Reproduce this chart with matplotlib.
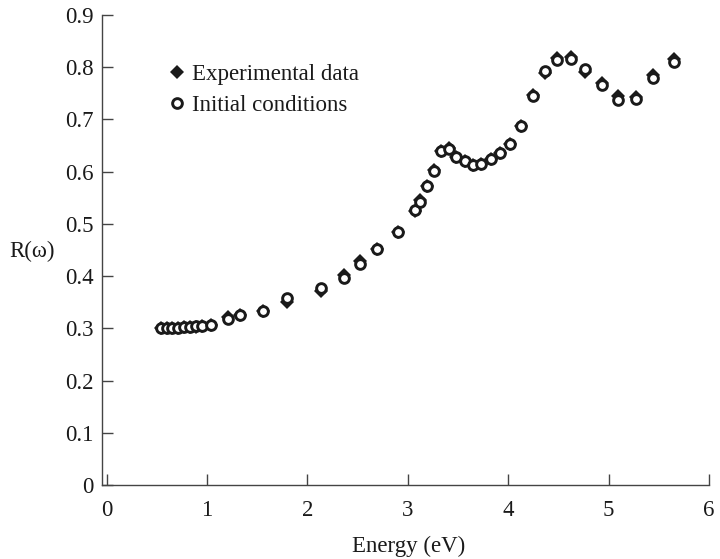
#!/usr/bin/env python3
"""
Reflectivity R(omega) vs photon energy: experimental data and initial conditions.
Saves out.png
"""
import matplotlib
matplotlib.use("Agg")
import matplotlib.pyplot as plt

# values
energy = [0.54, 0.60, 0.65, 0.71, 0.77, 0.83, 0.89, 0.95, 1.04, 1.21, 1.33,
          1.56, 1.80, 2.14, 2.37, 2.52, 2.69, 2.90, 3.07, 3.12, 3.19, 3.26,
          3.33, 3.41, 3.48, 3.57, 3.65, 3.73, 3.83, 3.92, 4.02, 4.13, 4.25,
          4.37, 4.49, 4.63, 4.77, 4.93, 5.09, 5.27, 5.44, 5.65]

r_initial = [0.300, 0.300, 0.300, 0.301, 0.302, 0.303, 0.304, 0.305, 0.307,
             0.318, 0.326, 0.333, 0.358, 0.378, 0.396, 0.424, 0.451, 0.485,
             0.527, 0.542, 0.572, 0.601, 0.639, 0.644, 0.629, 0.620, 0.613,
             0.614, 0.624, 0.636, 0.653, 0.687, 0.745, 0.793, 0.814, 0.815,
             0.797, 0.765, 0.738, 0.739, 0.779, 0.810]

r_experimental = [0.300, 0.300, 0.300, 0.301, 0.302, 0.303, 0.303, 0.304,
                  0.306, 0.322, 0.325, 0.333, 0.351, 0.371, 0.402, 0.429,
                  0.451, 0.485, 0.525, 0.546, 0.572, 0.603, 0.640, 0.646,
                  0.629, 0.620, 0.612, 0.614, 0.624, 0.636, 0.653, 0.688,
                  0.746, 0.788, 0.818, 0.820, 0.790, 0.770, 0.745, 0.743,
                  0.785, 0.815]

x_ticks = [0, 1, 2, 3, 4, 5, 6]
y_ticks = [0, 0.1, 0.2, 0.3, 0.4, 0.5, 0.6, 0.7, 0.8, 0.9]
y_ticklabels = ["0", "0.1", "0.2", "0.3", "0.4", "0.5", "0.6", "0.7", "0.8", "0.9"]

plt.rcParams["font.family"] = ["Liberation Serif", "DejaVu Serif"]
plt.rcParams["font.size"] = 16.5

ink = "#1a1a1a"

fig = plt.figure(figsize=(7.2, 5.59), dpi=100)
ax = fig.add_axes([102 / 720, 74 / 559, 607 / 720, 470 / 559])

ax.plot(energy, r_experimental, linestyle="none", marker="D", markersize=6.8,
        color=ink, markeredgewidth=0, label="Experimental data", zorder=2)
ax.plot(energy, r_initial, linestyle="none", marker="o", markersize=7.0,
        markerfacecolor="white", markeredgecolor=ink, markeredgewidth=2.1,
        label="Initial conditions", zorder=3)

ax.set_xlim(-0.045, 6.0)
ax.set_ylim(0, 0.9)
ax.set_xticks(x_ticks)
ax.set_xticklabels([str(t) for t in x_ticks])
ax.set_yticks(y_ticks)
ax.set_yticklabels(y_ticklabels)

for side in ("top", "right"):
    ax.spines[side].set_visible(False)
for side in ("left", "bottom"):
    ax.spines[side].set_linewidth(1.0)
    ax.spines[side].set_color("#444444")

ax.tick_params(axis="both", direction="in", length=8, width=1.0,
               color="#444444", labelcolor=ink)
ax.tick_params(axis="y", pad=6)
ax.tick_params(axis="x", pad=11)

ax.set_xlabel("Energy (eV)", color=ink)
ax.xaxis.set_label_coords(0.505, -0.108)
ax.set_ylabel("R(ω)", rotation=0, color=ink, va="center", ha="center")
ax.yaxis.set_label_coords(-0.115, 0.497)

ax.legend(loc="upper left", bbox_to_anchor=(0.109, 0.895), frameon=False,
          borderpad=0, borderaxespad=0, handlelength=0.8, handletextpad=0.22,
          labelspacing=0.4, labelcolor=ink)

fig.savefig("out.png", dpi=100)
